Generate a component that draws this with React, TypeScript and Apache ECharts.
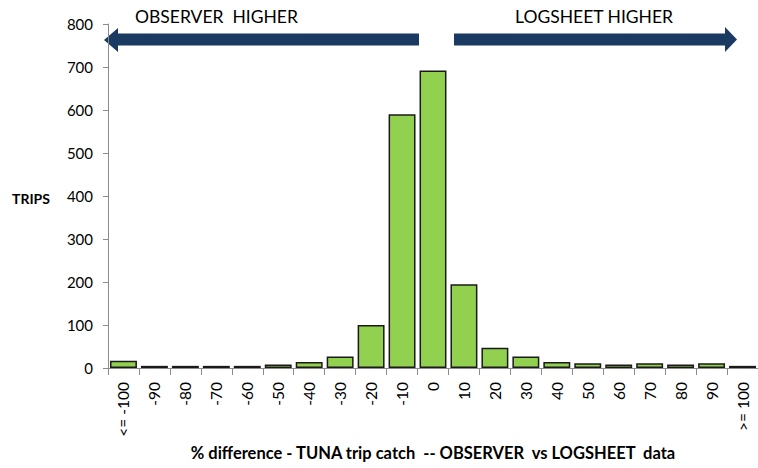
import React, { useEffect, useRef } from "react";
import * as echarts from "echarts";

const categories = ["<= -100", "-90", "-80", "-70", "-60", "-50", "-40", "-30", "-20", "-10", "0", "10", "20", "30", "40", "50", "60", "70", "80", "90", ">= 100"];
const trips = [17, 5, 5, 5, 5, 8, 14, 27, 100, 590, 692, 195, 47, 27, 14, 11, 8, 11, 8, 11, 5];
const yTicks = { min: 0, max: 800, interval: 100 };
const leftLabel = "OBSERVER  HIGHER";
const rightLabel = "LOGSHEET HIGHER";
const xName = "% difference - TUNA trip catch  -- OBSERVER  vs LOGSHEET  data";
const yName = "TRIPS";

const FONT = "Lato, 'Open Sans', sans-serif";

export default function App() {
  const ref = useRef<HTMLDivElement>(null);
  useEffect(() => {
    if (!ref.current) return;
    const chart = echarts.init(ref.current, undefined, { renderer: "svg" });
    const navy = "#1B3A61";
    chart.setOption({
      animation: false,
      backgroundColor: "#ffffff",
      textStyle: { fontFamily: FONT },
      grid: { left: 108, right: 0, top: 24, bottom: 100, containLabel: false, outerBoundsMode: "none" },
      xAxis: {
        type: "category",
        data: categories,
        axisLine: { lineStyle: { color: "#8c8c8c", width: 1 } },
        axisTick: { show: true, alignWithLabel: false, length: 7, lineStyle: { color: "#8c8c8c" } },
        axisLabel: { rotate: 90, color: "#000", fontSize: 15.5, fontFamily: FONT, margin: 14, interval: 0 },
        name: xName,
        nameLocation: "middle",
        nameGap: 76,
        nameTextStyle: { fontWeight: "bold", fontSize: 16.5, color: "#000", fontFamily: FONT },
      },
      yAxis: {
        type: "value",
        min: yTicks.min,
        max: yTicks.max,
        interval: yTicks.interval,
        axisLine: { show: true, lineStyle: { color: "#8c8c8c", width: 1 } },
        axisTick: { show: true, length: 5, lineStyle: { color: "#8c8c8c" } },
        splitLine: { show: false },
        axisLabel: { color: "#000", fontSize: 15, fontFamily: FONT, margin: 15 },
      },
      series: [
        {
          type: "bar",
          data: trips,
          barCategoryGap: "13%",
          itemStyle: { color: "#92D050", borderColor: "#1a1a1a", borderWidth: 1.5 },
        },
      ],
      graphic: [
        {
          type: "text",
          x: 12,
          y: 198,
          style: { text: yName, font: `bold 14px ${FONT}`, fill: "#000", textVerticalAlign: "middle" },
        },
        {
          type: "polygon",
          shape: {
            points: [
              [104, 40], [118, 28], [118, 33.5], [419, 33.5], [419, 45.5], [118, 45.5], [118, 52],
            ],
          },
          style: { fill: navy },
        },
        {
          type: "polygon",
          shape: {
            points: [
              [454, 33.5], [725, 33.5], [725, 27], [737, 39.5], [725, 52], [725, 45.5], [454, 45.5],
            ],
          },
          style: { fill: navy },
        },
        {
          type: "text",
          x: 135,
          y: 16,
          style: { text: leftLabel, font: `17.5px ${FONT}`, fill: "#000", textVerticalAlign: "middle" },
        },
        {
          type: "text",
          x: 515,
          y: 16,
          style: { text: rightLabel, font: `17.5px ${FONT}`, fill: "#000", textVerticalAlign: "middle" },
        },
      ],
    });
    return () => chart.dispose();
  }, []);
  return <div ref={ref} style={{ width: 758, height: 468, position: "absolute", left: 0, top: 0 }} />;
}
